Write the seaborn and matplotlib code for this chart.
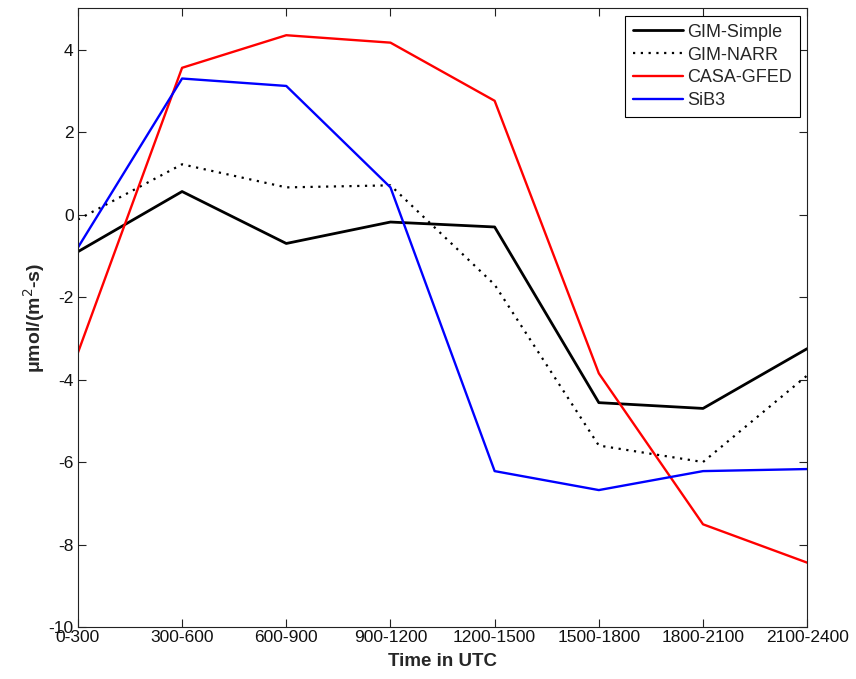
import matplotlib
matplotlib.use("Agg")
import matplotlib.pyplot as plt
import seaborn as sns
import pandas as pd
import numpy as np

categories = ["0-300", "300-600", "600-900", "900-1200", "1200-1500",
              "1500-1800", "1800-2100", "2100-2400"]
gim_simple = [-0.9, 0.56, -0.7, -0.18, -0.3, -4.56, -4.7, -3.25]
gim_narr = [-0.12, 1.22, 0.66, 0.71, -1.7, -5.6, -6.0, -3.9]
casa_gfed = [-3.35, 3.56, 4.35, 4.17, 2.76, -3.85, -7.51, -8.44]
sib3 = [-0.8, 3.3, 3.12, 0.66, -6.22, -6.68, -6.22, -6.17]

series = {"GIM-Simple": gim_simple, "GIM-NARR": gim_narr,
          "CASA-GFED": casa_gfed, "SiB3": sib3}
styles = {"GIM-Simple": dict(color="black", ls="-", lw=2.0),
          "GIM-NARR": dict(color="black", ls=(0, (1, 2.5)), lw=1.6),
          "CASA-GFED": dict(color="red", ls="-", lw=1.7),
          "SiB3": dict(color="blue", ls="-", lw=1.7)}

rows = []
for name, vals in series.items():
    for i, v in enumerate(vals):
        rows.append({"pos": i, "value": v, "model": name})
df = pd.DataFrame(rows)

sns.set_style("white")
plt.rcParams["font.family"] = ["Liberation Sans", "DejaVu Sans"]
plt.rcParams["axes.unicode_minus"] = False

fig = plt.figure(figsize=(8.56, 6.79), dpi=100)
ax = fig.add_axes([0.091, 0.0766, 0.852, 0.911])

for name in series:
    sub = df[df["model"] == name]
    st = styles[name]
    sns.lineplot(data=sub, x="pos", y="value", ax=ax, color=st["color"],
                 linewidth=st["lw"], label=name, sort=False)
    ax.lines[-1].set_linestyle(st["ls"])

ax.set_xlim(0, len(categories) - 1)
ax.set_ylim(-10, 5)
ax.set_xticks(range(len(categories)))
ax.set_xticklabels(categories)
ax.set_yticks(np.arange(-10, 5, 2))
ax.tick_params(direction="in", length=6, width=0.8, labelsize=12.5,
               top=True, right=True, bottom=True, left=True, colors="#222222",
               labelcolor="#111111")
ax.tick_params(axis="x", pad=2)
ax.tick_params(axis="y", pad=3)
for s in ax.spines.values():
    s.set_color("#222222")
    s.set_linewidth(0.8)
ax.set_xlabel("Time in UTC", fontsize=13.5, fontweight="bold", labelpad=6)
ax.set_ylabel("μmol/(m$^2$-s)", fontsize=14, fontweight="bold", labelpad=1)

leg = ax.legend(loc="upper right", fontsize=13, frameon=True, fancybox=False,
                edgecolor="black", framealpha=1, handlelength=2.8,
                handletextpad=0.2, borderpad=0.45, labelspacing=0.32,
                borderaxespad=0.4)
leg.get_frame().set_linewidth(0.8)

fig.savefig("out.png", dpi=100)
